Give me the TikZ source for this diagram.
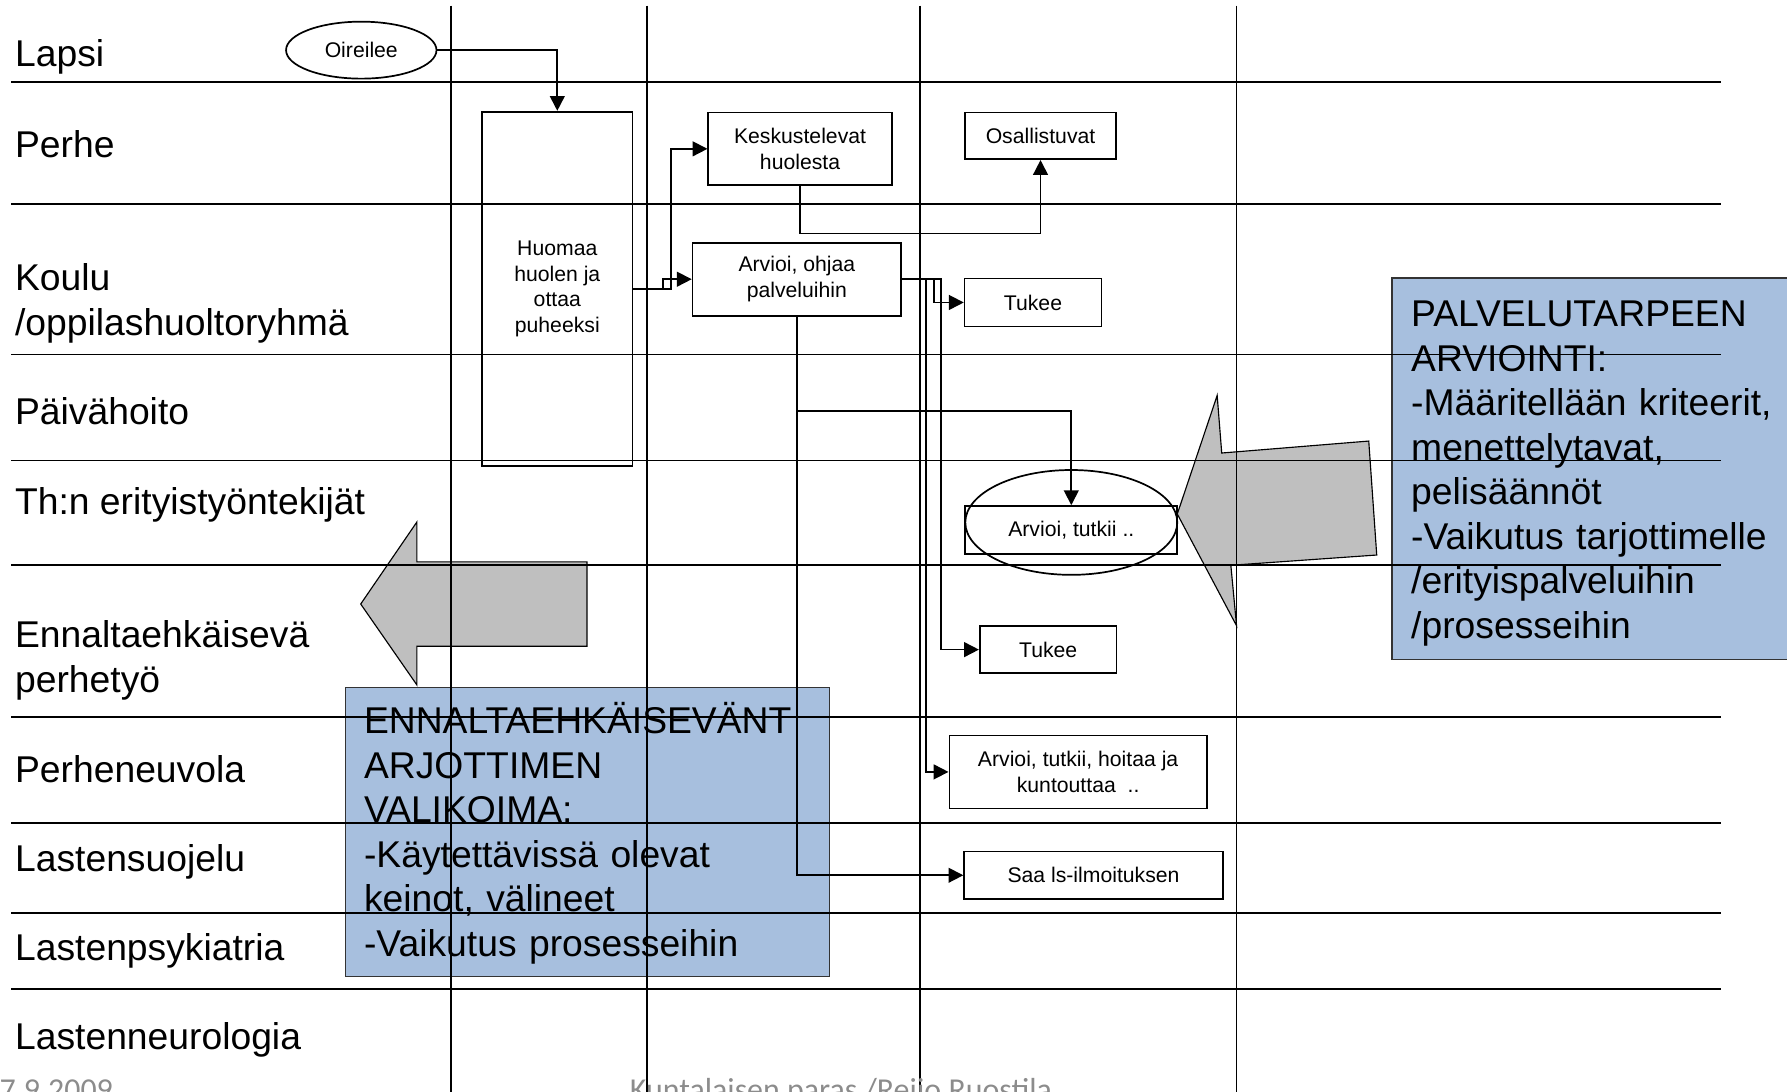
\documentclass[tikz,border=0pt]{standalone}
\usepackage{fontspec}
\setmainfont{Liberation Sans}
\newfontfamily\footfont{Carlito}
\usepackage{tikz}
\usetikzlibrary{arrows.meta,shapes.geometric}
\definecolor{panelblue}{RGB}{167,191,222}

\begin{document}
\begin{tikzpicture}[x=1pt,y=-1pt,line width=1.5pt,
	box/.style={draw, rectangle, inner sep=0pt, align=center, font=\fontsize{18.6}{22.8}\selectfont},
	oval/.style={draw, ellipse, inner sep=0pt, font=\fontsize{18.6}{22.8}\selectfont},
	flow/.style={-{Triangle[length=13pt,width=13pt]}},
	lane/.style={anchor=base west, inner sep=0pt, font=\fontsize{32.7}{39.1}\selectfont},
	paneltext/.style={anchor=base west, inner sep=0pt, text width=400pt, align=left, font=\fontsize{32.7}{39.1}\selectfont},
	panel/.style={draw=black!80, line width=1.2pt, fill=panelblue},
	bigarrow/.style={draw, line width=1pt, fill=gray!50}]
\useasboundingbox (0,0) rectangle (1568,958);

\draw[bigarrow] (316.5,530) -- (365.8,458) -- (365.8,493) -- (515,493) -- (515,567) -- (365.8,567) -- (365.8,601) -- cycle;
\draw[bigarrow] (1033,451) -- (1068,347) -- (1072,397.5) -- (1201,387) -- (1208,487) -- (1080,496) -- (1085,549) -- cycle;

\draw[panel] (1221.4,244) rectangle (1600,578.8);
\node[paneltext] (need) at (1237.5,286.6) {PALVELUTARPEEN\\ARVIOINTI:\\-Määritellään kriteerit,\\menettelytavat,\\pelisäännöt\\-Vaikutus tarjottimelle\\/erityispalveluihin\\/prosesseihin};
\draw[panel] (303.1,603.3) rectangle (728,857);
\node[paneltext] (tray) at (318.7,643.6) {ENNALTAEHKÄISEVÄNT\\ARJOTTIMEN\\VALIKOIMA:\\-Käytettävissä olevat\\keinot, välineet\\-Vaikutus prosesseihin};

\foreach \y in {72,179,311,404,496,629,722,801,868}
	\draw (10,\y) -- (1510,\y);
\foreach \x in {396,568,807,1085}
	\draw (\x,5) -- (\x,962);

\node[lane] (lapsi) at (12.5,58.5) {Lapsi};
\node[lane] (perhe) at (12.5,138.5) {Perhe};
\node[lane] (koulu) at (12.5,254.5) {Koulu};
\node[lane] (oppilas) at (12.5,294) {/oppilashuoltoryhmä};
\node[lane] (paiva) at (12.5,372.5) {Päivähoito};
\node[lane] (thn) at (12.5,451.5) {Th:n erityistyöntekijät};
\node[lane] (ennalta) at (12.5,568.5) {Ennaltaehkäisevä};
\node[lane] (perhetyo) at (12.5,608) {perhetyö};
\node[lane] (neuvola) at (12.5,686.5) {Perheneuvola};
\node[lane] (suojelu) at (12.5,764.5) {Lastensuojelu};
\node[lane] (psyk) at (12.5,842.5) {Lastenpsykiatria};
\node[lane] (neuro) at (12.5,920.5) {Lastenneurologia};

\node[oval, minimum width=132pt, minimum height=50pt] (oire) at (317,44) {Oireilee};
\node[box, minimum width=132pt, minimum height=311pt] (huom) at (489,253.5) {Huomaa\\huolen ja\\ottaa\\puheeksi};
\node[box, minimum width=161pt, minimum height=64pt] (kesk) at (702,130.6) {Keskustelevat\\huolesta};
\node[box, minimum width=133pt, minimum height=41pt] (osal) at (913,119.2) {Osallistuvat};
\node[box, minimum width=183pt, minimum height=64pt] (arv) at (699.2,245) {Arvioi, ohjaa\\palveluihin};
\node[box, minimum width=120pt, minimum height=42pt] (tuk1) at (906.4,265.4) {Tukee};
\node[box, minimum width=186pt, minimum height=42pt] (tutk) at (940,465) {Arvioi, tutkii ..};
\node[oval, minimum width=186pt, minimum height=92pt] (tutkring) at (940,458.4) {};
\node[box, minimum width=120pt, minimum height=41.5pt] (tuk2) at (919.7,570) {Tukee};
\node[box, minimum width=226pt, minimum height=64pt] (hoit) at (946,677.3) {Arvioi, tutkii, hoitaa ja\\kuntouttaa\ \ ..};
\node[box, minimum width=227pt, minimum height=41.5pt] (saa) at (959.5,768) {Saa ls-ilmoituksen};

\draw[flow] (oire.east) -| (huom.north);
\draw[flow] (huom.east) -- ++(33,0) |- (kesk.west);
\draw[flow] (huom.east) -- ++(26,0) |- (arv.west);
\draw[flow] (kesk.south) -- ++(0,41.6) -| (osal.south);
\draw[flow] (arv.east) -- ++(28,0) |- (tuk1.west);
\draw[flow] (arv.east) -- ++(34.5,0) |- (tuk2.west);
\draw[flow] (arv.east) -- ++(21,0) |- (hoit.west);
\draw[flow] (arv.south) -- ++(0,83) -| (tutk.north);
\draw[flow] (arv.south) |- (saa.west);

\node[anchor=base west, inner sep=0pt, text=black!45, font=\footfont\fontsize{28}{30}\selectfont] (date) at (-1,966) {7.9.2009};
\node[anchor=base west, inner sep=0pt, text=black!45, font=\footfont\fontsize{28}{30}\selectfont] (credit) at (552,966) {Kuntalaisen paras /Reijo Ruostila};
\end{tikzpicture}
\end{document}
